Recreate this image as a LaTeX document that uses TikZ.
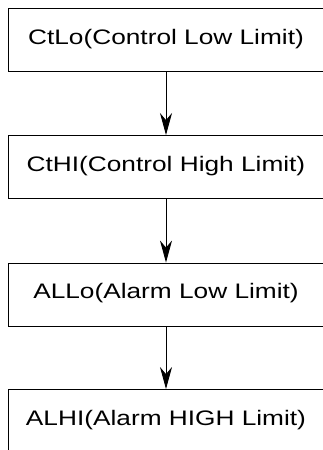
\documentclass[tikz,border=0pt]{standalone}
\usepackage{fontspec}
\setmainfont{Liberation Sans}
\usetikzlibrary{arrows.meta}
\newcommand{\widetext}[1]{\scalebox{1.25}[1]{#1}}
\tikzset{
    limitbox/.style={draw, line width=0.9pt, minimum width=316pt, minimum height=63pt,
        inner sep=0pt, text height=14pt, text depth=6pt,
        font=\fontsize{21}{25}\selectfont},
    nextarrow/.style={line width=0.9pt, -{Stealth[length=22pt, width=12pt, inset=7pt]}}
}
\begin{document}
\begin{tikzpicture}[x=1pt, y=1pt]
        \useasboundingbox (0,0) rectangle (323,-450);
        \clip (0,0) rectangle (323,-450);
        \node[limitbox] (ctlo) at (166,-40){\widetext{CtLo(Control Low Limit)}};
        \node[limitbox] (cthi) at (166,-167){\widetext{CtHI(Control High Limit)}};
        \node[limitbox] (allo) at (166,-294.5){\widetext{ALLo(Alarm Low Limit)}};
        \node[limitbox] (alhi) at (166,-421){\widetext{ALHI(Alarm HIGH Limit)}};
        \draw[nextarrow] (ctlo) -- (cthi);
        \draw[nextarrow] (cthi) -- (allo);
        \draw[nextarrow] (allo) -- (alhi);
    \end{tikzpicture}
\end{document}
